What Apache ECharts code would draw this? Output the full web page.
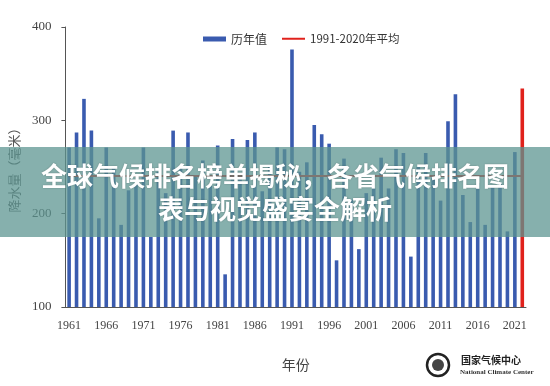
<!DOCTYPE html>
<html>
<head>
<meta charset="utf-8">
<script src="https://cdn.jsdelivr.net/npm/echarts@6/dist/echarts.min.js"></script>
<style>html,body{margin:0;padding:0;background:#fff;}#c{width:550px;height:386px;}</style>
</head>
<body>
<div id="c"></div>
<script>
var years = [];
for (var y = 1961; y <= 2022; y++) years.push(String(y));
var values = [
  271, 287, 323, 289, 195, 271, 250, 188, 225, 232,
  271, 175, 245, 222, 289, 250, 287, 240, 257, 230,
  273, 135, 280, 240, 279, 287, 224, 250, 271, 269,
  376, 245, 255, 295, 285, 275, 150, 259, 215, 162,
  222, 227, 260, 227, 269, 265, 154, 250, 265, 240,
  214, 299, 328, 220, 191, 233, 188, 228, 232, 181,
  266, 334
];
var average = 241;
var highlightYear = '2022';
var yTicks = [100, 200, 300, 400];
var seriesNames = ['历年值', '1991-2020年平均'];

var blue = '#3A5BAF', red = '#E0221C';
var barData = values.map(function (v, i) {
  return years[i] === highlightYear ? { value: v, itemStyle: { color: red } } : v;
});

var chart = echarts.init(document.getElementById('c'), null, { renderer: 'canvas' });
chart.setOption({
  animation: false,
  grid: { left: 61, right: 24, top: 27, bottom: 79, containLabel: false },
  legend: [
    { data: [seriesNames[0]], left: 198, top: 28, itemWidth: 23, itemHeight: 5, itemGap: 6,
      icon: 'rect', textStyle: { fontSize: 12, color: '#333', fontFamily: 'Noto Sans CJK SC' } },
    { data: [seriesNames[1]], left: 277, top: 28, itemWidth: 23, itemHeight: 2, itemGap: 6,
      icon: 'rect', textStyle: { fontSize: 11.5, color: '#333', fontFamily: 'Noto Sans CJK SC' } }
  ],
  xAxis: {
    type: 'category', data: years,
    name: '年份', nameLocation: 'middle', nameGap: 51,
    nameTextStyle: { fontSize: 14, color: '#444', fontFamily: 'Noto Sans CJK SC' },
    axisLine: { lineStyle: { color: '#555', width: 1 } },
    axisTick: { interval: 4, length: 4, lineStyle: { color: '#555' } },
    axisLabel: { interval: 4, margin: 13, fontSize: 12, color: '#444', fontFamily: 'Liberation Serif' }
  },
  yAxis: {
    type: 'value', min: yTicks[0], max: yTicks[yTicks.length - 1], interval: 100,
    name: '降水量（毫米）', nameLocation: 'middle', nameGap: 44, nameRotate: 90,
    nameTextStyle: { fontSize: 13, color: '#555', fontFamily: 'Noto Sans CJK SC' },
    axisLine: { show: true, lineStyle: { color: '#555', width: 1 } },
    axisTick: { show: true, length: 4, lineStyle: { color: '#555' } },
    splitLine: { show: false },
    axisLabel: { margin: 14, fontSize: 13, color: '#444', fontFamily: 'Liberation Serif' }
  },
  series: [
    { name: seriesNames[0], type: 'bar', data: barData, barWidth: 3.6,
      itemStyle: { color: blue }, z: 2 },
    { name: seriesNames[1], type: 'line', data: [], itemStyle: { color: red },
      lineStyle: { color: red, width: 2 },
      markLine: { silent: true, symbol: 'none', label: { show: false },
        lineStyle: { color: red, width: 2, type: 'solid' },
        data: [[{ coord: [years[0], average] }, { coord: [years[years.length - 1], average] }]] }, z: 3 }
  ],
  graphic: [
    { type: 'rect', left: 0, top: 147, shape: { width: 550, height: 90 },
      style: { fill: 'rgba(92,148,144,0.74)' }, z: 100 },
    { type: 'text', left: 'center', top: 163, z: 101,
      style: { text: '全球气候排名榜单揭秘，各省气候排名图', fill: '#fff',
        font: 'bold 26px "Noto Sans CJK SC"', textShadowColor: 'rgba(0,0,0,0.25)', textShadowBlur: 2 } },
    { type: 'text', left: 'center', top: 196, z: 101,
      style: { text: '表与视觉盛宴全解析', fill: '#fff',
        font: 'bold 26px "Noto Sans CJK SC"', textShadowColor: 'rgba(0,0,0,0.25)', textShadowBlur: 2 } },
    { type: 'circle', shape: { cx: 438, cy: 365, r: 11 }, style: { fill: '#fff', stroke: '#222', lineWidth: 2.5 }, z: 50 },
    { type: 'circle', shape: { cx: 438, cy: 365, r: 6 }, style: { fill: '#444' }, z: 51 },
    { type: 'text', left: 461, top: 355, z: 50,
      style: { text: '国家气候中心', fill: '#222', font: 'bold 10px "Noto Sans CJK SC"' } },
    { type: 'text', left: 460, top: 369, z: 50,
      style: { text: 'National Climate Center', fill: '#333', font: 'bold 7px "Liberation Serif"' } }
  ]
});
</script>
</body>
</html>
